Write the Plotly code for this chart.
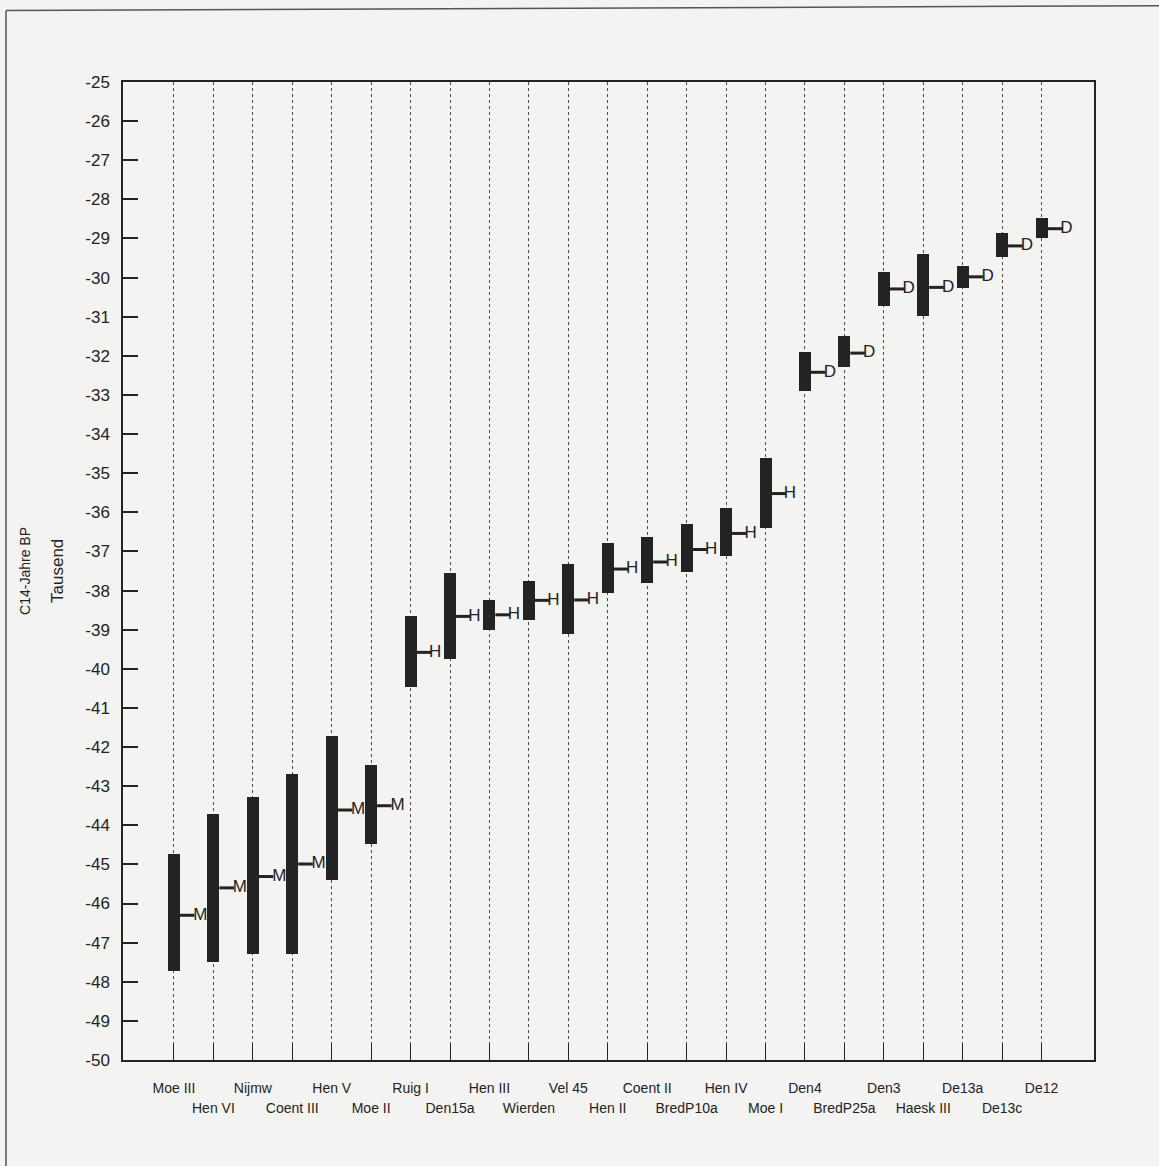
import plotly.graph_objects as go

# ---------------- data ----------------
categories = ["Moe III", "Hen VI", "Nijmw", "Coent III", "Hen V", "Moe II",
              "Ruig I", "Den15a", "Hen III", "Wierden", "Vel 45", "Hen II",
              "Coent II", "BredP10a", "Hen IV", "Moe I", "Den4", "BredP25a",
              "Den3", "Haesk III", "De13a", "De13c", "De12"]

upper = [-44.74, -43.70, -43.27, -42.69, -41.71, -42.47,
         -38.65, -37.55, -38.25, -37.76, -37.33, -36.78,
         -36.63, -36.30, -35.90, -34.60, -31.91, -31.50,
         -29.86, -29.39, -29.70, -28.87, -28.48]

lower = [-47.73, -47.49, -47.30, -47.29, -45.41, -44.47,
         -40.46, -39.75, -39.01, -38.75, -39.11, -38.07,
         -37.80, -37.52, -37.11, -36.39, -32.90, -32.28,
         -30.73, -30.99, -30.27, -29.47, -29.00]

mean = [-46.30, -45.60, -45.31, -44.99, -43.61, -43.50,
        -39.58, -38.66, -38.62, -38.25, -38.24, -37.45,
        -37.27, -36.95, -36.54, -35.52, -32.42, -31.93,
        -30.29, -30.25, -29.98, -29.19, -28.75]

method = ["M", "M", "M", "M", "M", "M",
          "H", "H", "H", "H", "H", "H", "H", "H", "H", "H",
          "D", "D", "D", "D", "D", "D", "D"]

y_tick_values = [-50, -49, -48, -47, -46, -45, -44, -43, -42, -41, -40, -39, -38,
                 -37, -36, -35, -34, -33, -32, -31, -30, -29, -28, -27, -26, -25]
y_tick_labels = ["-50", "-49", "-48", "-47", "-46", "-45", "-44", "-43", "-42",
                 "-41", "-40", "-39", "-38", "-37", "-36", "-35", "-34", "-33",
                 "-32", "-31", "-30", "-29", "-28", "-27", "-26", "-25"]

# ---------------- styling ----------------
INK = "#232323"
BG = "#f3f3f1"
FONT = "Liberation Sans, Arial, sans-serif"
bar_width = 0.305
line_start, line_end = 0.15, 0.52
letter_offset = {"M": 0.67, "H": 0.62, "D": 0.63}

idx = list(range(len(categories)))
x_range = [-1.293, 23.33]

fig = go.Figure()

# range bars
fig.add_trace(go.Bar(
    x=idx, y=[u - l for u, l in zip(upper, lower)], base=lower,
    width=bar_width, marker=dict(color=INK, line=dict(width=0)),
    showlegend=False, hoverinfo="skip"))

# mean connector lines
lx, ly = [], []
for i, m in zip(idx, mean):
    lx += [i + line_start, i + line_end, None]
    ly += [m, m, None]
fig.add_trace(go.Scatter(x=lx, y=ly, mode="lines",
                         line=dict(color=INK, width=3),
                         showlegend=False, hoverinfo="skip"))

# method letters
fig.add_trace(go.Scatter(
    x=[i + letter_offset[t] for i, t in zip(idx, method)], y=mean,
    mode="text", text=method, textposition="middle center",
    textfont=dict(family=FONT, size=17, color=INK),
    xaxis="x2", showlegend=False, hoverinfo="skip"))

fig.update_layout(
    width=1159, height=1166,
    margin=dict(l=123, r=65, t=82, b=106),
    paper_bgcolor=BG, plot_bgcolor=BG,
    font=dict(family=FONT, color=INK),
    bargap=0,
    xaxis=dict(
        range=x_range, tickmode="array", tickvals=idx,
        ticktext=[c if i % 2 == 0 else "" for i, c in enumerate(categories)],
        ticks="inside", ticklen=16, tickwidth=1, tickcolor=INK,
        showline=True, linecolor=INK, linewidth=1.5, mirror=True,
        showgrid=True, gridcolor="#4a4a4a", gridwidth=1, griddash="dot",
        zeroline=False, tickfont=dict(size=14, family=FONT, color=INK),
        ticklabelstandoff=14),
    xaxis2=dict(
        range=x_range, overlaying="x", anchor="y", side="bottom",
        tickmode="array", tickvals=[i for i in idx if i % 2 == 1],
        ticktext=[c for i, c in enumerate(categories) if i % 2 == 1],
        ticks="", showline=False, showgrid=False, zeroline=False,
        tickfont=dict(size=14, family=FONT, color=INK),
        ticklabelstandoff=38),
    yaxis=dict(
        range=[-50, -25], tickmode="array", tickvals=y_tick_values,
        ticktext=y_tick_labels,
        ticks="inside", ticklen=15, tickwidth=1.5, tickcolor=INK,
        showline=True, linecolor=INK, linewidth=1.5, mirror=True,
        showgrid=False, zeroline=False,
        tickfont=dict(size=17, family=FONT, color=INK),
        ticklabelstandoff=8),
    annotations=[
        dict(text="C14-Jahre BP", x=-0.101, y=0.5, xref="paper", yref="paper",
             textangle=-90, showarrow=False, xanchor="center", yanchor="middle",
             font=dict(size=14, family=FONT, color=INK)),
        dict(text="Tausend", x=-0.068, y=0.5, xref="paper", yref="paper",
             textangle=-90, showarrow=False, xanchor="center", yanchor="middle",
             font=dict(size=17, family=FONT, color=INK)),
    ],
    shapes=[
        dict(type="line", xref="paper", yref="paper",
             x0=-0.1205, x1=-0.1205, y0=1.073, y1=-0.11,
             line=dict(color="#555", width=1.5)),
        dict(type="line", xref="paper", yref="paper",
             x0=-0.1205, x1=1.07, y0=1.073, y1=1.078,
             line=dict(color="#555", width=1.5)),
    ],
)

fig.write_html("out.html")
